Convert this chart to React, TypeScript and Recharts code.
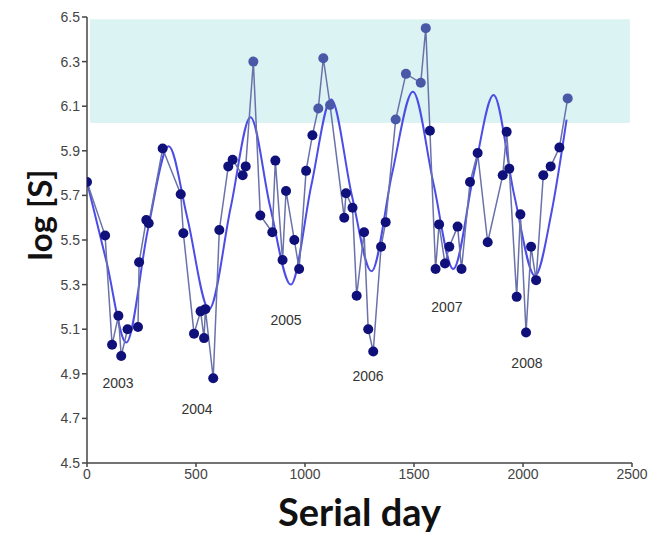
import { ComposedChart, Line, XAxis, YAxis, ReferenceArea, Scatter, Label } from 'recharts';

// raw observations: serial day and log[S]
const obsDays = [0, 83, 115, 144, 157, 186, 234, 239, 272, 283, 347, 430, 442, 491, 521, 537, 543, 579, 607, 648, 668, 714, 728, 763, 795, 850, 864, 897, 913, 951, 973, 1005, 1034, 1061, 1084, 1115, 1180, 1188, 1218, 1237, 1271, 1290, 1313, 1349, 1370, 1416, 1463, 1531, 1554, 1573, 1599, 1615, 1642, 1662, 1700, 1718, 1757, 1792, 1838, 1907, 1925, 1937, 1971, 1988, 2014, 2037, 2060, 2093, 2127, 2167, 2205];
const obsValues = [5.76, 5.52, 5.03, 5.16, 4.98, 5.1, 5.11, 5.4, 5.59, 5.575, 5.91, 5.705, 5.53, 5.08, 5.18, 5.06, 5.19, 4.88, 5.545, 5.83, 5.86, 5.79, 5.83, 6.3, 5.61, 5.535, 5.856, 5.41, 5.72, 5.5, 5.37, 5.81, 5.97, 6.09, 6.315, 6.105, 5.6, 5.71, 5.645, 5.25, 5.535, 5.1, 5.0, 5.47, 5.58, 6.04, 6.245, 6.205, 6.45, 5.99, 5.37, 5.57, 5.395, 5.47, 5.56, 5.37, 5.76, 5.89, 5.49, 5.79, 5.985, 5.82, 5.245, 5.615, 5.085, 5.47, 5.32, 5.79, 5.83, 5.915, 6.135];

// fitted curve
const fitDays = [0, 90, 180, 280, 375, 460, 560, 660, 750, 840, 935, 1030, 1120, 1215, 1305, 1400, 1495, 1590, 1680, 1775, 1865, 1960, 2055, 2130, 2200];
const fitValues = [5.76, 5.4, 5.04, 5.55, 5.92, 5.6, 5.19, 5.65, 6.05, 5.65, 5.3, 5.75, 6.13, 5.7, 5.36, 5.8, 6.165, 5.75, 5.37, 5.8, 6.15, 5.7, 5.34, 5.62, 6.04];

const years = ['2003', '2004', '2005', '2006', '2007', '2008'];
const yearDays = [142, 505, 913, 1289, 1651, 2018];
const yearValues = [4.86, 4.74, 5.14, 4.89, 5.2, 4.95];

const xTicks = [0, 500, 1000, 1500, 2000, 2500];
const yTicks = [4.5, 4.7, 4.9, 5.1, 5.3, 5.5, 5.7, 5.9, 6.1, 6.3, 6.5];
const bandLow = 6.025;
const bandHigh = 6.49;

const obsData = obsDays.map((day, i) => ({ day, obs: obsValues[i] }));
const fitData = fitDays.map((day, i) => ({ day, fit: fitValues[i] }));
const yearData = years.map((label, i) => ({ day: yearDays[i], pos: yearValues[i], label }));

const ObsDot = (props: any) => {
  const { cx, cy, payload } = props;
  if (cx == null || cy == null) return null;
  const high = payload.obs > bandLow;
  return <circle key={`d${payload.day}`} cx={cx} cy={cy} r={5} fill={high ? '#4a58a8' : '#10107a'} stroke="none" />;
};

const YearText = (props: any) => {
  const { cx, cy, payload } = props;
  return (
    <text x={cx} y={cy} textAnchor="middle" dominantBaseline="central" fontSize={14} fill="#333" fontFamily="Liberation Sans, Arial, sans-serif">
      {payload.label}
    </text>
  );
};

const YLabel = () => (
  <text
    x={31}
    y={207}
    transform="rotate(-90 31 207)"
    textAnchor="middle"
    dominantBaseline="central"
    fontSize={33}
    fontWeight={700}
    fill="#111"
    fontFamily="Lato, sans-serif"
  >
    log [S]
  </text>
);

const tickStyle = { fontSize: 14, fill: '#444', fontFamily: 'Liberation Sans, Arial, sans-serif' };

export default function App() {
  return (
    <ComposedChart width={647} height={530} margin={{ top: 9, right: 23, left: 39, bottom: 15 }}>
      <ReferenceArea x1={14} x2={2490} y1={bandLow} y2={bandHigh} fill="#dcf3f3" fillOpacity={1} stroke="none" />
      <XAxis
        type="number"
        dataKey="day"
        domain={[0, 2500]}
        ticks={xTicks}
        allowDataOverflow
        tick={tickStyle}
        tickSize={4}
        stroke="#444"
        strokeWidth={1.5}
        height={60}
      >
        <Label value="Serial day" position="insideBottom" offset={-3} style={{ fontSize: 38, fontWeight: 700, fill: '#111', fontFamily: 'Lato, sans-serif' }} />
      </XAxis>
      <YAxis
        type="number"
        domain={[4.5, 6.5]}
        ticks={yTicks}
        tickFormatter={(v: number) => v.toFixed(1)}
        tick={tickStyle}
        tickSize={5}
        stroke="#444"
        strokeWidth={1.5}
        width={40}
      >
        <Label content={<YLabel />} />
      </YAxis>
      <Line data={fitData} dataKey="fit" type="monotone" stroke="#4c4ce6" strokeWidth={2} dot={false} isAnimationActive={false} />
      <Line data={obsData} dataKey="obs" type="linear" stroke="#6a72aa" strokeWidth={1.5} dot={<ObsDot />} activeDot={false} isAnimationActive={false} />
      <Scatter data={yearData} dataKey="pos" shape={<YearText />} isAnimationActive={false} />
    </ComposedChart>
  );
}
